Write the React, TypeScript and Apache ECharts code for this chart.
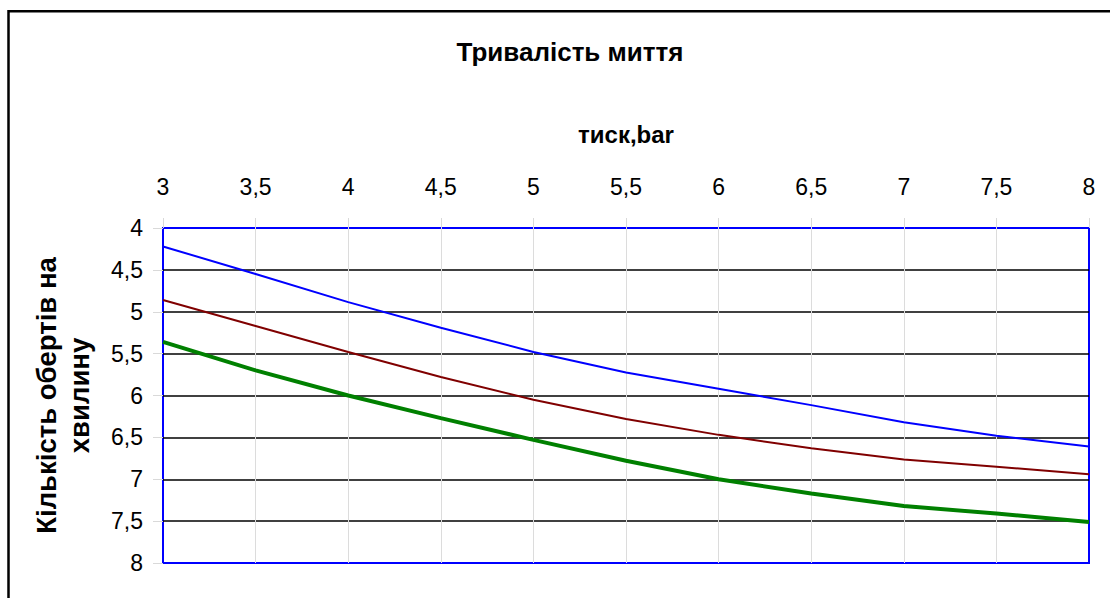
import React, { useEffect, useRef } from "react";
import * as echarts from "echarts";

const title = "Тривалість миття";
const xName = "тиск,bar";
const yName = "Кількість обертів на\nхвилину";
const pressure = [3, 3.5, 4, 4.5, 5, 5.5, 6, 6.5, 7, 7.5, 8];
const seriesBlue = [4.22, 4.55, 4.885, 5.19, 5.48, 5.725, 5.92, 6.115, 6.32, 6.48, 6.61];
const seriesRed = [4.86, 5.17, 5.48, 5.78, 6.05, 6.28, 6.47, 6.63, 6.765, 6.85, 6.94];
const seriesGreen = [5.36, 5.7, 6.0, 6.27, 6.53, 6.78, 7.0, 7.17, 7.32, 7.41, 7.51];

const FONT = "'Liberation Sans', Arial, sans-serif";
const fmt = (v: number) => String(v).replace(".", ",");

export default function App() {
  const ref = useRef<HTMLDivElement>(null);
  useEffect(() => {
    if (!ref.current) return;
    const chart = echarts.init(ref.current, undefined, { renderer: "svg" });
    const pairs = (ys: number[]) => pressure.map((x, i) => [x, ys[i]]);
    chart.setOption({
      animation: false,
      backgroundColor: "#ffffff",
      title: {
        text: title,
        left: 565,
        top: 34,
        textAlign: "center",
        textStyle: { fontFamily: FONT, fontSize: 26, fontWeight: "bold", color: "#000" },
      },
      graphic: [
        {
          type: "rect",
          z: -1,
          shape: { x: 8.5, y: 11.3, width: 1300, height: 800 },
          style: { fill: "none", stroke: "#000", lineWidth: 2.5 },
        },
      ],
      grid: {
        left: 163,
        top: 228,
        right: 21,
        bottom: 35,
        show: true,
        borderColor: "#0000ff",
        borderWidth: 2,
        backgroundColor: "transparent",
      },
      xAxis: {
        type: "value",
        position: "top",
        min: 3,
        max: 8,
        interval: 0.5,
        name: xName,
        nameLocation: "middle",
        nameGap: 82,
        nameTextStyle: { fontFamily: FONT, fontSize: 24, fontWeight: "bold", color: "#000" },
        axisLine: { show: false },
        axisTick: { show: true, length: 10, lineStyle: { color: "#d9d9d9", width: 1 } },
        axisLabel: {
          fontFamily: FONT,
          fontSize: 23,
          color: "#000",
          margin: 30,
          formatter: (v: number) => fmt(v),
        },
        splitLine: {
          show: true,
          showMinLine: false,
          showMaxLine: false,
          lineStyle: { color: "#dcdcdc", width: 1 },
        },
      },
      yAxis: {
        type: "value",
        inverse: true,
        min: 4,
        max: 8,
        interval: 0.5,
        name: yName,
        nameLocation: "middle",
        nameGap: 67,
        nameRotate: 90,
        nameTextStyle: {
          fontFamily: FONT,
          fontSize: 27.5,
          fontWeight: "bold",
          color: "#000",
          lineHeight: 33,
          align: "center",
        },
        axisLine: { show: false },
        axisTick: { show: true, length: 10, lineStyle: { color: "#d9d9d9", width: 1 } },
        axisLabel: {
          fontFamily: FONT,
          fontSize: 23,
          color: "#000",
          margin: 20,
          formatter: (v: number) => fmt(v),
        },
        splitLine: {
          show: true,
          showMinLine: false,
          showMaxLine: false,
          lineStyle: { color: "#000", width: 1.5 },
        },
      },
      series: [
        {
          type: "line",
          data: pairs(seriesBlue),
          showSymbol: false,
          lineStyle: { color: "#0000ff", width: 2 },
          itemStyle: { color: "#0000ff" },
        },
        {
          type: "line",
          data: pairs(seriesRed),
          showSymbol: false,
          lineStyle: { color: "#800000", width: 2 },
          itemStyle: { color: "#800000" },
        },
        {
          type: "line",
          data: pairs(seriesGreen),
          showSymbol: false,
          lineStyle: { color: "#008000", width: 4 },
          itemStyle: { color: "#008000" },
        },
      ],
    });
    return () => chart.dispose();
  }, []);
  return (
    <div
      ref={ref}
      style={{ position: "fixed", left: 0, top: 0, width: 1110, height: 598 }}
    />
  );
}
